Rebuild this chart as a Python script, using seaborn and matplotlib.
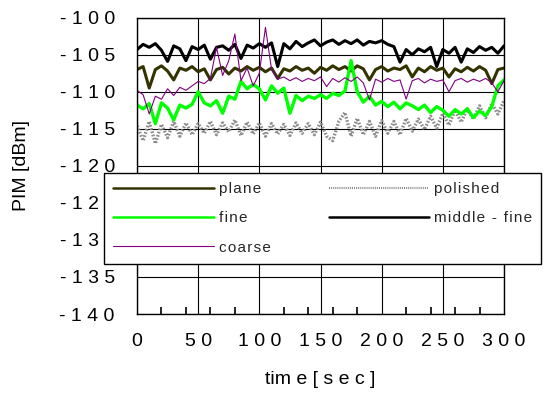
import numpy as np
import pandas as pd
import matplotlib
matplotlib.use('Agg')
import matplotlib.pyplot as plt
from matplotlib.ticker import MultipleLocator, FixedLocator
from matplotlib.lines import Line2D
import seaborn as sns

# Datos (una muestra cada 5 s)
tiempo = np.arange(0, 301, 5)

plane = [-107.0, -106.6, -109.5, -107.0, -106.5, -107.2, -108.4, -106.8, -107.1, -106.6,
         -107.3, -106.9, -108.4, -107.0, -106.7, -107.6, -106.8, -107.2, -106.6, -107.1,
         -106.7, -107.3, -106.8, -108.2, -106.9, -107.2, -106.6, -107.1, -106.8, -107.5,
         -106.7, -107.1, -106.5, -107.0, -106.6, -107.2, -106.5, -106.9, -108.4, -107.0,
         -106.6, -107.2, -106.8, -107.0, -106.5, -108.0, -106.8, -107.3, -106.6, -107.1,
         -106.8, -108.0, -106.9, -107.3, -106.7, -107.2, -106.6, -107.1, -108.9, -107.0,
         -106.8]

fine = [-111.8, -112.3, -111.6, -114.3, -111.5, -112.2, -113.8, -111.8, -112.2, -111.7,
        -110.0, -111.5, -111.9, -111.2, -112.9, -110.6, -111.0, -108.6, -109.6, -109.0,
        -109.6, -111.1, -109.2, -110.2, -109.5, -112.9, -110.5, -111.2, -110.6, -110.9,
        -110.4, -110.9, -110.2, -110.5, -109.9, -105.8, -110.0, -111.4, -110.6, -111.8,
        -111.3, -112.0, -111.4, -112.3, -111.5, -111.9, -112.4, -111.8, -112.8, -112.0,
        -112.5, -113.3, -112.4, -113.0, -112.3, -113.5, -112.6, -113.2, -112.0, -109.2,
        -108.4]

coarse = [-109.8, -110.4, -113.0, -110.6, -111.0, -109.6, -110.5, -109.4, -109.8, -109.2,
          -108.6, -108.9, -108.2, -104.0, -107.8, -105.8, -102.2, -108.5, -106.8, -109.2,
          -107.5, -101.3, -107.0, -108.3, -108.0, -108.5, -108.1, -108.6, -108.2, -108.5,
          -108.0, -109.3, -108.2, -108.7, -108.1, -108.6, -108.0, -108.8, -111.1, -108.3,
          -108.7, -108.2, -108.6, -108.4, -111.0, -108.5, -108.2, -108.8, -108.3, -108.6,
          -108.4, -110.0, -108.5, -108.2, -108.7, -108.3, -108.6, -108.2, -108.8, -110.0,
          -108.5]

polished = [-114.6, -116.6, -114.0, -117.0, -114.4, -116.2, -114.0, -116.0, -114.2, -115.8,
            -114.3, -115.6, -114.0, -115.8, -114.2, -115.4, -113.8, -115.9, -114.1, -115.7,
            -114.2, -116.0, -114.3, -115.7, -114.4, -115.9, -114.2, -115.6, -114.3, -115.8,
            -114.1, -116.0, -116.6, -114.0, -112.8, -116.0, -113.6, -115.8, -114.0, -116.0,
            -113.9, -115.6, -114.0, -115.8, -113.6, -115.3, -113.7, -115.1, -113.3, -114.9,
            -112.9, -114.5, -112.5, -114.1, -112.3, -113.7, -111.9, -113.5, -111.6, -113.0,
            -111.2]

middle_fine = [-104.3, -103.6, -104.0, -103.5, -104.4, -105.9, -103.8, -104.2, -105.8, -103.9,
               -104.3, -103.7, -105.6, -104.0, -103.8, -104.4, -103.6, -105.5, -103.7, -104.1,
               -103.5, -104.0, -103.4, -106.6, -103.5, -104.2, -103.2, -103.9, -103.4, -103.0,
               -103.8, -103.3, -103.0, -103.6, -103.1, -103.5, -103.0, -103.7, -103.2, -103.4,
               -103.1, -103.6, -103.9, -106.0, -104.3, -105.0, -104.2, -104.6, -104.0, -106.6,
               -104.3, -104.8, -104.0, -106.0, -104.2, -104.7, -103.9, -104.4, -104.0, -104.8,
               -103.8]

x_ticks = [0, 50, 100, 150, 200, 250, 300]
x_labels = ['0', '5 0', '1 0 0', '1 5 0', '2 0 0', '2 5 0', '3 0 0']
y_ticks = [-140, -135, -130, -125, -120, -115, -110, -105, -100]
y_labels = ['- 1 4 0', '- 1 3 5', '- 1 3 0', '- 1 2 5', '- 1 2 0',
            '- 1 1 5', '- 1 1 0', '- 1 0 5', '- 1 0 0']

sns.set_theme(style='ticks')
plt.rcParams['font.family'] = ['Liberation Sans', 'DejaVu Sans']
plt.rcParams['xtick.minor.visible'] = True
plt.rcParams['xtick.minor.size'] = 5
plt.rcParams['xtick.minor.width'] = 1.2
plt.rcParams['xtick.direction'] = 'in'

fig = plt.figure(figsize=(5.45, 3.94), dpi=100)
ax = fig.add_axes([137 / 545, 80 / 394, 367 / 545, 296.3 / 394])

# orden de dibujo: el morado queda encima
estilos = {
    'polished': dict(color='#8c8c8c', linewidth=2.4, linestyle=(0, (0.5, 0.5))),
    'plane': dict(color='#333300', linewidth=2.2, linestyle='-'),
    'middle-fine': dict(color='black', linewidth=2.2, linestyle='-'),
    'fine': dict(color='#00ff00', linewidth=2.4, linestyle='-'),
    'coarse': dict(color='#800080', linewidth=0.8, linestyle='-'),
}
series = {'polished': polished, 'plane': plane, 'middle-fine': middle_fine,
          'fine': fine, 'coarse': coarse}

for nombre, valores in series.items():
    sns.lineplot(x=tiempo, y=valores, ax=ax, legend=False, **estilos[nombre])

ax.set_xlim(0, 300)
ax.set_ylim(-140, -100)
ax.xaxis.set_major_locator(FixedLocator(x_ticks))
ax.set_xticklabels(x_labels)
ax.xaxis.set_minor_locator(MultipleLocator(20))
ax.set_yticks(y_ticks)
ax.set_yticklabels(y_labels)
ax.tick_params(axis='x', which='major', length=0, pad=14, labelsize=14, colors='black')
ax.tick_params(axis='x', which='minor', bottom=True, top=False, length=5, width=1.2,
               direction='in', color='black', zorder=5)
ax.tick_params(axis='y', which='both', length=0, pad=16, labelsize=14, colors='black')
ax.grid(True, which='major', color='black', linewidth=0.8)
for s in ax.spines.values():
    s.set_visible(True)
    s.set_color('black')
    s.set_linewidth(1.0)

ax.set_xlabel('tim e [ s e c ]', fontsize=14, color='black')
ax.xaxis.label.set_va('center')
ax.xaxis.set_label_coords(0.5, (14 - 80) / 296.3)
ax.set_ylabel('PIM [dBm]', fontsize=14, color='black')
ax.yaxis.label.set_va('center')
ax.yaxis.set_label_coords((22 - 137) / 367, 0.5)

# leyenda en dos columnas
orden = ['plane', 'fine', 'coarse', 'polished', 'middle-fine']
etiquetas = ['\u200a'.join(n) for n in ['plane', 'fine', 'coarse', 'polished', 'middle - fine']]
handles = []
for nombre in orden:
    e = dict(estilos[nombre])
    if nombre == 'polished':
        e['linewidth'] = 1.5
        e['linestyle'] = (0, (0.5, 0.5))
    elif nombre != 'coarse':
        e['linewidth'] = 1.8
    handles.append(Line2D([0], [0], **e))
leg = fig.legend(handles, etiquetas, ncol=2, loc='upper left',
                 bbox_to_anchor=(104 / 545, 1 - 173 / 394), bbox_transform=fig.transFigure,
                 fontsize=11, frameon=True, fancybox=False, framealpha=1,
                 edgecolor='black', handlelength=6.6, handletextpad=0.3,
                 columnspacing=3.8, labelspacing=1.0, borderpad=0.6, borderaxespad=0)
leg.get_frame().set_linewidth(1.0)

fig.savefig('out.png', dpi=100)
